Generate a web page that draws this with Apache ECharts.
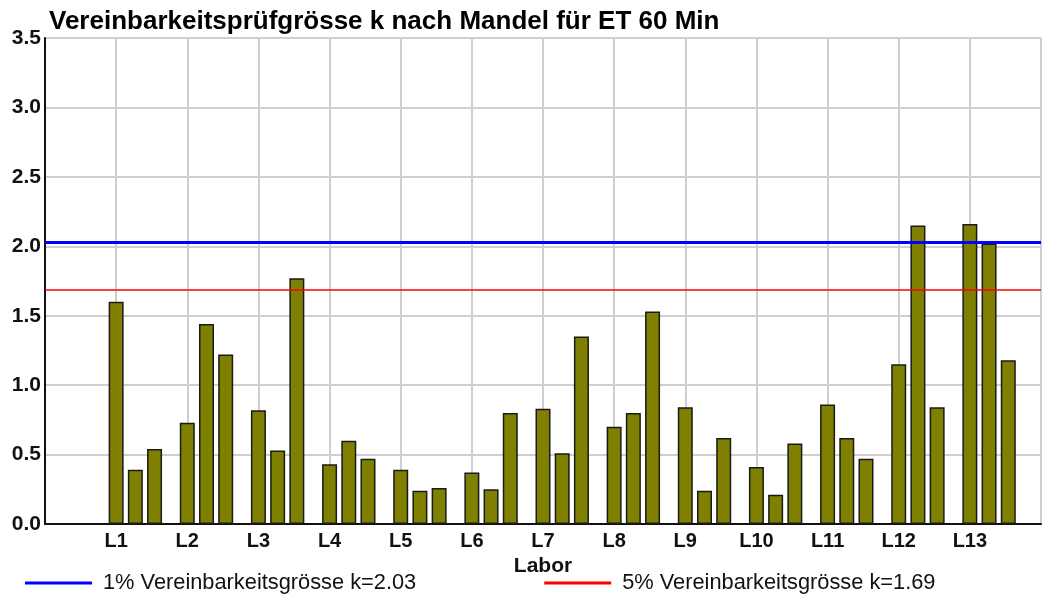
<!DOCTYPE html>
<html>
<head>
<meta charset="utf-8">
<script src="https://cdn.jsdelivr.net/npm/echarts@6/dist/echarts.min.js"></script>
<style>
  html, body { margin: 0; padding: 0; background: #fff; }
  #chart { width: 1044px; height: 599px; }
</style>
</head>
<body>
<div id="chart"></div>
<script>
// Labore und die drei Messwerte je Labor
var labs = ['L1', 'L2', 'L3', 'L4', 'L5', 'L6', 'L7', 'L8', 'L9', 'L10', 'L11', 'L12', 'L13'];
var kValues = [
  [1.60, 0.39, 0.54],
  [0.73, 1.44, 1.22],
  [0.82, 0.53, 1.77],
  [0.43, 0.60, 0.47],
  [0.39, 0.24, 0.26],
  [0.37, 0.25, 0.80],
  [0.83, 0.51, 1.35],
  [0.70, 0.80, 1.53],
  [0.84, 0.24, 0.62],
  [0.41, 0.21, 0.58],
  [0.86, 0.62, 0.47],
  [1.15, 2.15, 0.84],
  [2.16, 2.02, 1.18]
];
var k1 = 2.03;  // 1% Vereinbarkeitsgrösse
var k5 = 1.69;  // 5% Vereinbarkeitsgrösse
var yTicks = [0, 0.5, 1.0, 1.5, 2.0, 2.5, 3.0, 3.5];

var slot = 0.27; // Abstand der Balken innerhalb eines Labors (in Labor-Einheiten)
var barData = [];
kValues.forEach(function (row, i) {
  row.forEach(function (v, j) {
    barData.push([i + 1 + j * slot, v]);
  });
});

var font = 'Liberation Sans, Arial, sans-serif';
var chart = echarts.init(document.getElementById('chart'));
var option = {
  animation: false,
  title: {
    text: 'Vereinbarkeitsprüfgrösse k nach Mandel für ET 60 Min',
    left: 44, top: 4,
    textStyle: { fontFamily: font, fontSize: 26, fontWeight: 'bold', color: '#000' }
  },
  legend: {
    left: 20, top: 567,
    itemWidth: 67, itemHeight: 14, itemGap: 128,
    icon: 'path://M0,5.5 L67,5.5 L67,8.5 L0,8.5 Z',
    textStyle: { fontFamily: font, fontSize: 21.8, color: '#111', padding: [0, 0, 0, 6] },
    data: [
      { name: '1% Vereinbarkeitsgrösse k=2.03', itemStyle: { color: '#0000ff' } },
      { name: '5% Vereinbarkeitsgrösse k=1.69', itemStyle: { color: '#ff0000' } }
    ]
  },
  grid: { left: 45, right: 0, top: 38, bottom: 75 },
  xAxis: {
    type: 'value', min: 0, max: 14, interval: 1,
    name: 'Labor', nameLocation: 'middle', nameGap: 30,
    nameTextStyle: { fontFamily: font, fontSize: 21, fontWeight: 'bold', color: '#111' },
    axisLine: { show: true, lineStyle: { color: '#111', width: 2 } },
    axisTick: { show: false },
    axisLabel: {
      margin: 7, fontFamily: font, fontSize: 20, fontWeight: 'bold', color: '#111',
      formatter: function (v) { return labs[v - 1] || ''; }
    },
    splitLine: { show: true, lineStyle: { color: '#cfcfcf', width: 2 } }
  },
  yAxis: {
    type: 'value', min: yTicks[0], max: yTicks[yTicks.length - 1], interval: 0.5,
    axisLine: { show: true, lineStyle: { color: '#111', width: 2 } },
    axisTick: { show: false },
    axisLabel: {
      margin: 4, fontFamily: font, fontSize: 21, fontWeight: 'bold', color: '#111',
      formatter: function (v) { return v.toFixed(1); }
    },
    splitLine: { show: true, lineStyle: { color: '#cfcfcf', width: 2 } }
  },
  series: [
    {
      type: 'bar',
      data: barData,
      barWidth: 15,
      itemStyle: { color: '#808000', borderColor: '#1a1a1a', borderWidth: 1.5 },
      z: 3
    },
    {
      name: '1% Vereinbarkeitsgrösse k=2.03',
      type: 'line', data: [], color: '#0000ff',
      markLine: {
        silent: true, symbol: 'none', label: { show: false },
        lineStyle: { color: '#0000ff', width: 3, type: 'solid' },
        data: [{ yAxis: k1 }]
      },
      z: 4
    },
    {
      name: '5% Vereinbarkeitsgrösse k=1.69',
      type: 'line', data: [], color: '#ff0000',
      markLine: {
        silent: true, symbol: 'none', label: { show: false },
        lineStyle: { color: '#ff0000', width: 1.5, type: 'solid' },
        data: [{ yAxis: k5 }]
      },
      z: 2
    }
  ]
};
chart.setOption(option);
window.addEventListener('resize', function () { chart.resize(); });
</script>
</body>
</html>
